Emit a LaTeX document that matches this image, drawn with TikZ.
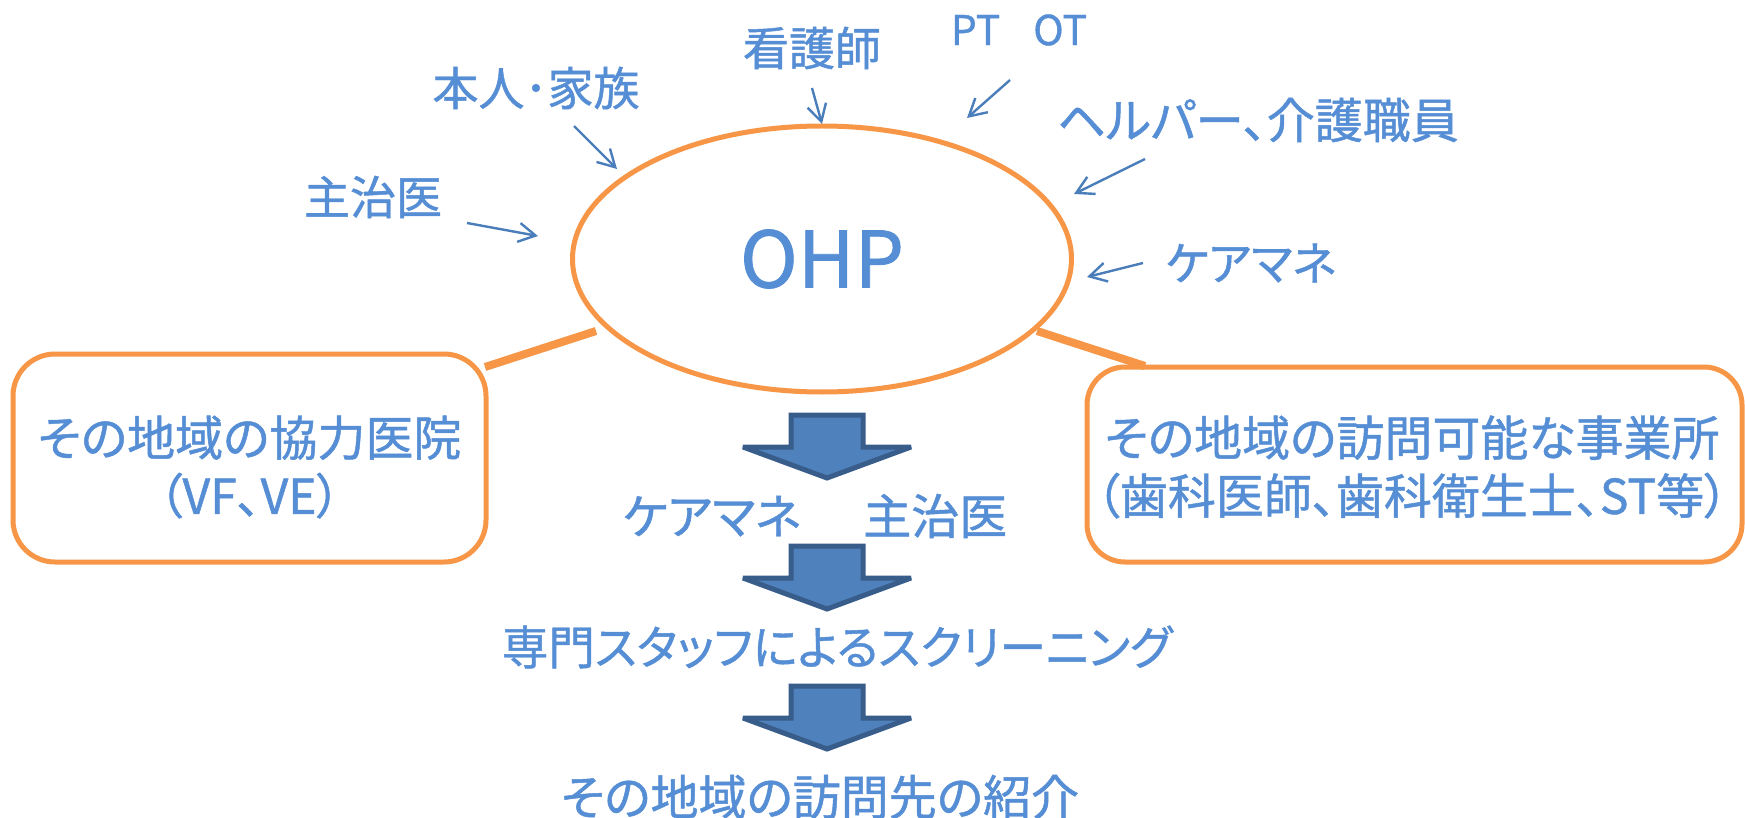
\documentclass[tikz,border=0pt]{standalone}
\usepackage{fontspec}
\setmainfont{Noto Sans CJK JP}[RawFeature=+palt,FakeBold=1]
\usetikzlibrary{shapes.geometric,arrows.meta}
\definecolor{txtblue}{HTML}{558ED5}
\definecolor{lnblue}{HTML}{4A7EBB}
\definecolor{orng}{HTML}{F79646}
\definecolor{arrfill}{HTML}{4F81BD}
\definecolor{arrline}{HTML}{385D8A}
\begin{document}
\begin{tikzpicture}[x=1pt,y=-1pt,
  lbl/.style={text=txtblue, font=\fontsize{46}{52}\selectfont, inner sep=0pt},
  ptr/.style={draw=lnblue, line width=2.4pt, -{Straight Barb[length=17pt,width=19pt]}},
  bubble/.style={draw=orng, line width=5pt, rounded corners=42pt, inner sep=0pt},
  link/.style={draw=orng, line width=8pt},
  flowarr/.style={draw=arrline, fill=arrfill, line width=5pt, miter limit=3},
  flowtxt/.style={text=txtblue, font=\fontsize{48}{58}\selectfont, inner sep=0pt},
  flowarrow/.pic={\path[flowarr] (-36,0) -- (36,0) -- (36,32) -- (84,32) -- (0,63) -- (-84,32) -- (-36,32) -- cycle;}
]
\useasboundingbox[fill=white] (0,0) rectangle (1745,818);

% central ellipse
\node[ellipse, draw=orng, line width=5pt, minimum width=499pt, minimum height=266pt,
      inner sep=0pt, text=txtblue, font=\fontsize{78}{80}\selectfont] (ohp) at (822,259) {OHP};

% side boxes
\node[bubble, minimum width=473pt, minimum height=208pt] (lbox) at (249.5,458) {};
\node[flowtxt, align=center] (ltxt) at (249.5,467) {その地域の協力医院\\（VF、VE）};
\node[bubble, rounded corners=38pt, minimum width=655pt, minimum height=195pt] (rbox) at (1414.5,464.5) {};
\node[flowtxt, align=center] (rtxt) at (1412,467) {その地域の訪問可能な事業所\\（歯科医師、歯科衛生士、ST等）};

\coordinate (lA) at (485,367);
\coordinate (lB) at (596,331);
\coordinate (rA) at (1037,331);
\coordinate (rB) at (1145,366);
\draw[link] (lA) -- (lB);
\draw[link] (rA) -- (rB);

% labels around
\node[lbl] (kango) at (812,48) {看護師};
\node[lbl, font=\fontsize{41}{46}\selectfont] (ptot) at (1019,30) {PT\kern-8pt　OT};
\node[lbl] (honin) at (536,88) {本人･家族};
\node[lbl] (shuji) at (373,197) {主治医};
\node[lbl, font=\fontsize{48}{52}\selectfont] (helper) at (1258,120) {ヘルパー、介護職員};
\node[lbl] (cmr) at (1251,263) {ケアマネ};

\coordinate (k1) at (812,88);   \coordinate (k2) at (822,124);
\coordinate (p1) at (1010,80);  \coordinate (p2) at (967,118);
\coordinate (h1) at (574,126);  \coordinate (h2) at (617,169);
\coordinate (s1) at (467,223);  \coordinate (s2) at (538,236);
\coordinate (e1) at (1145,159); \coordinate (e2) at (1074,194);
\coordinate (c1) at (1143,263); \coordinate (c2) at (1087,277);
\draw[ptr] (k1) -- (k2);
\draw[ptr] (p1) -- (p2);
\draw[ptr] (h1) -- (h2);
\draw[ptr] (s1) -- (s2);
\draw[ptr] (e1) -- (e2);
\draw[ptr] (c1) -- (c2);

% flow
\pic at (827,415) {flowarrow};
\node[flowtxt] (cm) at (815,516) {ケアマネ\kern14pt　主治医};
\pic at (827,546) {flowarrow};
\node[flowtxt, font=\fontsize{46.5}{58}\selectfont] (scr) at (837,647) {専門スタッフによるスクリーニング};
\pic at (827,686) {flowarrow};
\node[flowtxt] (intro) at (820,797) {その地域の訪問先の紹介};
\end{tikzpicture}
\end{document}
